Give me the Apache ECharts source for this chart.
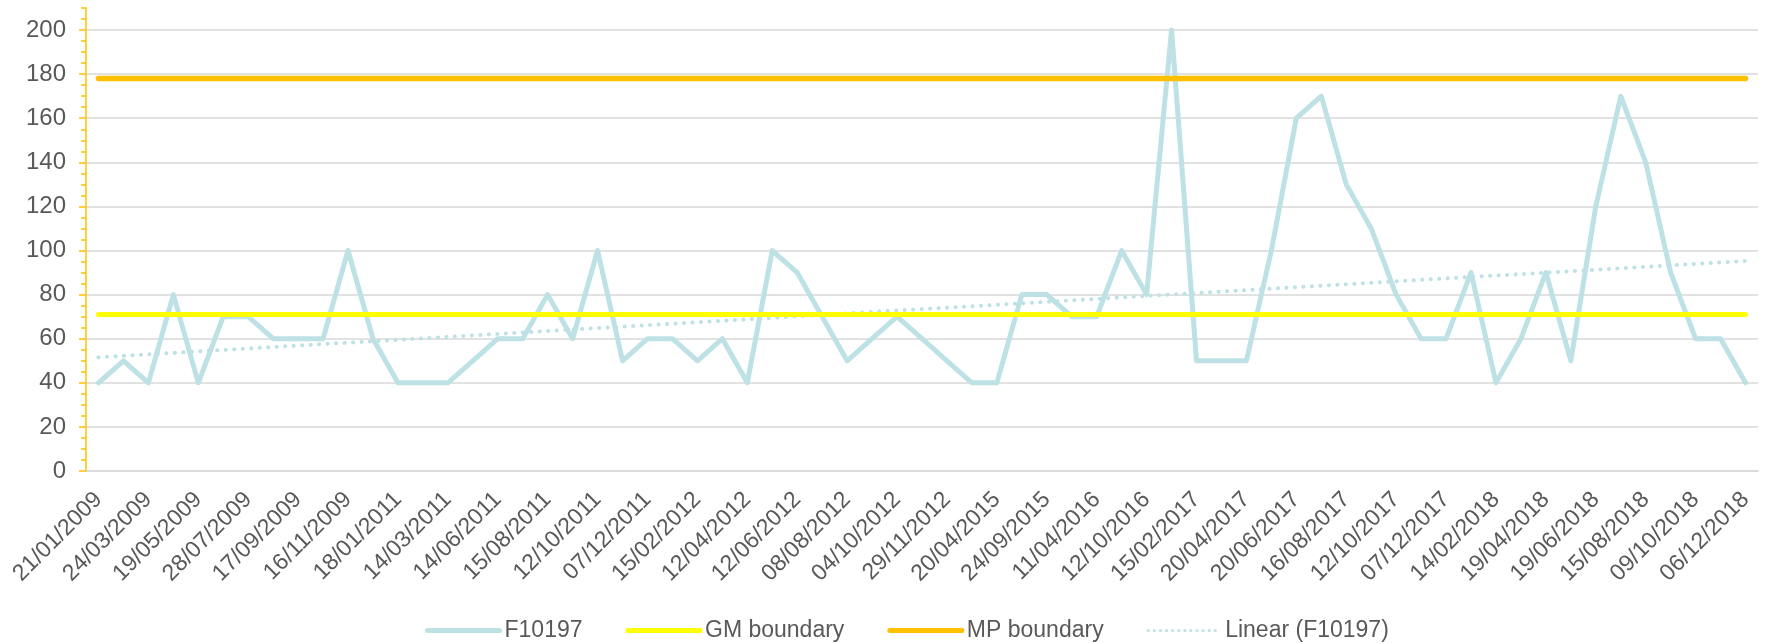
<!DOCTYPE html>
<html>
<head>
<meta charset="utf-8">
<script src="https://cdn.jsdelivr.net/npm/echarts@6/dist/echarts.min.js"></script>
<style>
html,body{margin:0;padding:0;background:#fff;}
#chart{width:1768px;height:643px;}
</style>
</head>
<body>
<div id="chart"></div>
<script>
// Sample dates (every other one is labelled on the axis)
const dates = [
  '21/01/2009','19/02/2009','24/03/2009','22/04/2009','19/05/2009','23/06/2009','28/07/2009','19/08/2009',
  '17/09/2009','14/10/2009','16/11/2009','16/12/2009','18/01/2011','16/02/2011','14/03/2011','12/05/2011',
  '14/06/2011','13/07/2011','15/08/2011','14/09/2011','12/10/2011','09/11/2011','07/12/2011','11/01/2012',
  '15/02/2012','14/03/2012','12/04/2012','15/05/2012','12/06/2012','11/07/2012','08/08/2012','05/09/2012',
  '04/10/2012','31/10/2012','29/11/2012','18/03/2015','20/04/2015','22/07/2015','24/09/2015','25/11/2015',
  '11/04/2016','14/07/2016','12/10/2016','14/12/2016','15/02/2017','15/03/2017','20/04/2017','18/05/2017',
  '20/06/2017','19/07/2017','16/08/2017','13/09/2017','12/10/2017','09/11/2017','07/12/2017','16/01/2018',
  '14/02/2018','15/03/2018','19/04/2018','17/05/2018','19/06/2018','18/07/2018','15/08/2018','12/09/2018',
  '09/10/2018','07/11/2018','06/12/2018'
];
const f10197 = [
  40,50,40,80,40,70,70,60,60,60,
  100,60,40,40,40,50,60,60,80,60,
  100,50,60,60,50,60,40,100,90,70,
  50,60,70,60,50,40,40,80,80,70,
  70,100,80,200,50,50,50,100,160,170,
  130,110,80,60,60,90,40,60,90,50,
  120,170,140,90,60,60,40
];
const gmBoundaryValue = 71;
const mpBoundaryValue = 178;
const yTickLabels = [0,20,40,60,80,100,120,140,160,180,200];

// series derived from the values above
const gmBoundary = dates.map(() => gmBoundaryValue);
const mpBoundary = dates.map(() => mpBoundaryValue);
// least-squares linear trend of F10197 (as Excel's "Linear" trendline)
const n = f10197.length;
const xm = (n - 1) / 2;
const ym = f10197.reduce((a, b) => a + b, 0) / n;
let sxy = 0, sxx = 0;
f10197.forEach((v, i) => { sxy += (i - xm) * (v - ym); sxx += (i - xm) * (i - xm); });
const slope = sxy / sxx;
const trend = f10197.map((v, i) => +(ym + slope * (i - xm)).toFixed(3));

const FONT = 'Liberation Sans, Arial, sans-serif';
const TXT = '#595959';
const ORANGE = '#FFC000';
const TEAL = '#BDE1E4';
const NOSYM = {color: 'transparent', borderColor: 'transparent', borderWidth: 0, opacity: 0};

const chart = echarts.init(document.getElementById('chart'), null, {renderer: 'canvas'});
chart.setOption({
  animation: false,
  backgroundColor: '#ffffff',
  grid: {left: 86, right: 10, top: 8, bottom: 172, containLabel: false, outerBoundsMode: 'none'},
  legend: {
    left: 420, top: 614,
    itemWidth: 72, itemHeight: 14, itemGap: 43,
    textStyle: {fontFamily: FONT, fontSize: 23, color: TXT},
    itemStyle: NOSYM,
    data: [
      {name: 'F10197', itemStyle: NOSYM, lineStyle: {color: TEAL, width: 5, cap: 'round'}},
      {name: 'GM boundary', itemStyle: NOSYM, lineStyle: {color: '#FFFF00', width: 5, cap: 'round'}},
      {name: 'MP boundary', itemStyle: NOSYM, lineStyle: {color: ORANGE, width: 5, cap: 'round'}},
      {name: 'Linear (F10197)', itemStyle: NOSYM, lineStyle: {color: TEAL, width: 3, type: [0.1, 6], cap: 'round'}}
    ]
  },
  xAxis: {
    type: 'category',
    data: dates,
    boundaryGap: true,
    axisLine: {show: true, lineStyle: {color: '#d9d9d9', width: 1.5}},
    axisTick: {show: false},
    axisLabel: {
      interval: 1, rotate: 45, margin: 25,
      fontFamily: FONT, fontSize: 23, color: TXT
    },
    splitLine: {show: false}
  },
  yAxis: [
    {
      type: 'value', min: 0, max: 210, interval: 20,
      axisLine: {show: false},
      axisTick: {show: true, length: 7, lineStyle: {color: ORANGE, width: 1.5}},
      axisLabel: {
        margin: 20, fontFamily: FONT, fontSize: 24, color: TXT, showMaxLabel: false,
        formatter: v => (yTickLabels.indexOf(v) >= 0 ? String(v) : '')
      },
      splitLine: {show: true, showMaxLine: false, lineStyle: {color: '#d9d9d9', width: 1.5}}
    },
    {
      type: 'value', min: 0, max: 210, interval: 5, position: 'left',
      axisLine: {show: true, lineStyle: {color: ORANGE, width: 1.5}},
      axisTick: {show: true, length: 5, lineStyle: {color: ORANGE, width: 1.5}},
      axisLabel: {show: false},
      splitLine: {show: false}
    }
  ],
  series: [
    {
      name: 'F10197', type: 'line', data: f10197, yAxisIndex: 0,
      showSymbol: false, symbol: 'none', z: 3,
      lineStyle: {color: TEAL, width: 5, join: 'round', cap: 'round'},
      itemStyle: {color: TEAL}
    },
    {
      name: 'GM boundary', type: 'line', data: gmBoundary, yAxisIndex: 0,
      showSymbol: false, symbol: 'none', z: 4,
      lineStyle: {color: '#FFFF00', width: 5, cap: 'round'},
      itemStyle: {color: '#FFFF00'}
    },
    {
      name: 'MP boundary', type: 'line', data: mpBoundary, yAxisIndex: 0,
      showSymbol: false, symbol: 'none', z: 4,
      lineStyle: {color: ORANGE, width: 5.5, cap: 'round'},
      itemStyle: {color: ORANGE}
    },
    {
      name: 'Linear (F10197)', type: 'line', data: trend, yAxisIndex: 0,
      showSymbol: false, symbol: 'none', z: 2,
      lineStyle: {color: TEAL, width: 4, type: [0.1, 8.4], cap: 'round'},
      itemStyle: {color: TEAL}
    }
  ]
});
</script>
</body>
</html>
